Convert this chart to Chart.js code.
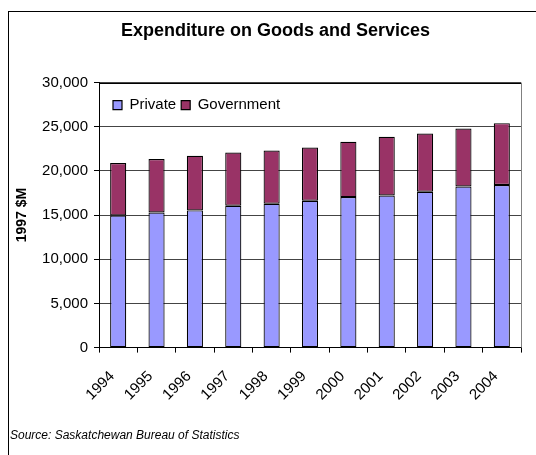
<!DOCTYPE html>
<html>
<head>
<meta charset="utf-8">
<script src="https://cdn.jsdelivr.net/npm/chart.js@4/dist/chart.umd.min.js"></script>
<style>
  html, body { margin: 0; padding: 0; background: #fff; overflow: hidden; }
  #frame { position: absolute; left: 8px; top: 11px; width: 600px; height: 500px; border: 1px solid #000; }
  #chart { position: absolute; left: 0; top: 0; }
</style>
</head>
<body>
<div id="frame"></div>
<canvas id="chart" width="536" height="455"></canvas>
<script>
const years = ["1994", "1995", "1996", "1997", "1998", "1999", "2000", "2001", "2002", "2003", "2004"];
const privateSpend = [14950, 15300, 15530, 16060, 16280, 16620, 17040, 17220, 17640, 18240, 18400];
const governmentSpend = [5950, 6040, 6180, 6030, 6030, 6030, 6250, 6640, 6590, 6560, 7010];

const FONT = '"Liberation Sans", Arial, sans-serif';
Chart.defaults.font.family = FONT;
Chart.defaults.color = "#000";

// nudge title and legend: legend is laid out on top, then moved inside the plot
const nudge = {
  id: "nudge",
  afterLayout(chart) {
    const a = chart.chartArea;
    const t = chart.titleBlock;
    if (t) { t.left += 10; t.right += 10; }
    const lg = chart.legend;
    if (lg) {
      const w = lg.width, h = lg.height;
      lg.left = a.left + 9; lg.right = lg.left + w;
      lg.top = a.top + 10; lg.bottom = lg.top + h;
    }
  },
  beforeDatasetsDraw(chart) {
    const { ctx, chartArea: a } = chart;
    ctx.save();
    ctx.lineWidth = 1;
    ctx.strokeStyle = "#000";
    ctx.beginPath();
    ctx.moveTo(a.left, Math.round(a.top) + 0.5);
    ctx.lineTo(a.right, Math.round(a.top) + 0.5);
    ctx.stroke();
    ctx.strokeStyle = "#808080";
    ctx.beginPath();
    ctx.moveTo(Math.round(a.right) + 0.5, a.top);
    ctx.lineTo(Math.round(a.right) + 0.5, a.bottom);
    ctx.stroke();
    ctx.restore();
  }
};

function barSeries(label, data, color) {
  return {
    label,
    data,
    backgroundColor: color,
    borderColor: "#000",
    borderWidth: 1.2,
    borderSkipped: false,
    categoryPercentage: 1,
    barPercentage: 0.42
  };
}

new Chart(document.getElementById("chart"), {
  type: "bar",
  data: {
    labels: years,
    datasets: [
      barSeries("Private", privateSpend, "#9999ff"),
      barSeries("Government", governmentSpend, "#993366")
    ]
  },
  plugins: [nudge],
  options: {
    responsive: false,
    animation: false,
    devicePixelRatio: 1,
    layout: { padding: { left: 10, right: 15, top: 0, bottom: 12 } },
    plugins: {
      title: {
        display: true,
        text: "Expenditure on Goods and Services",
        font: { size: 18, weight: "bold" },
        color: "#000",
        padding: { top: 20, bottom: 11 }
      },
      subtitle: {
        display: true,
        position: "bottom",
        align: "start",
        text: "Source: Saskatchewan Bureau of Statistics",
        font: { size: 12, style: "italic" },
        color: "#000",
        padding: 0
      },
      legend: {
        position: "top",
        align: "start",
        labels: { boxWidth: 9, boxHeight: 9, padding: 5, font: { size: 15 }, color: "#000" }
      },
      tooltip: { enabled: false }
    },
    scales: {
      x: {
        stacked: true,
        afterFit: s => { s.height = 81; },
        grid: { display: true, drawOnChartArea: false, drawTicks: true, tickLength: 5, tickColor: "#000", offset: true },
        border: { display: true, color: "#000" },
        ticks: { font: { size: 15 }, color: "#000", minRotation: 45, maxRotation: 45, padding: 15, labelOffset: -6 }
      },
      y: {
        stacked: true,
        min: 0,
        max: 30000,
        afterFit: s => { s.width = 89; },
        grid: { color: "#444", tickColor: "#000", tickLength: 5 },
        border: { display: true, color: "#000" },
        ticks: { stepSize: 5000, font: { size: 15 }, color: "#000", padding: 6 },
        title: { display: true, text: "1997 $M", font: { size: 14, weight: "bold" }, color: "#000", padding: { top: 4, bottom: 0 } }
      }
    }
  }
});
</script>
</body>
</html>
